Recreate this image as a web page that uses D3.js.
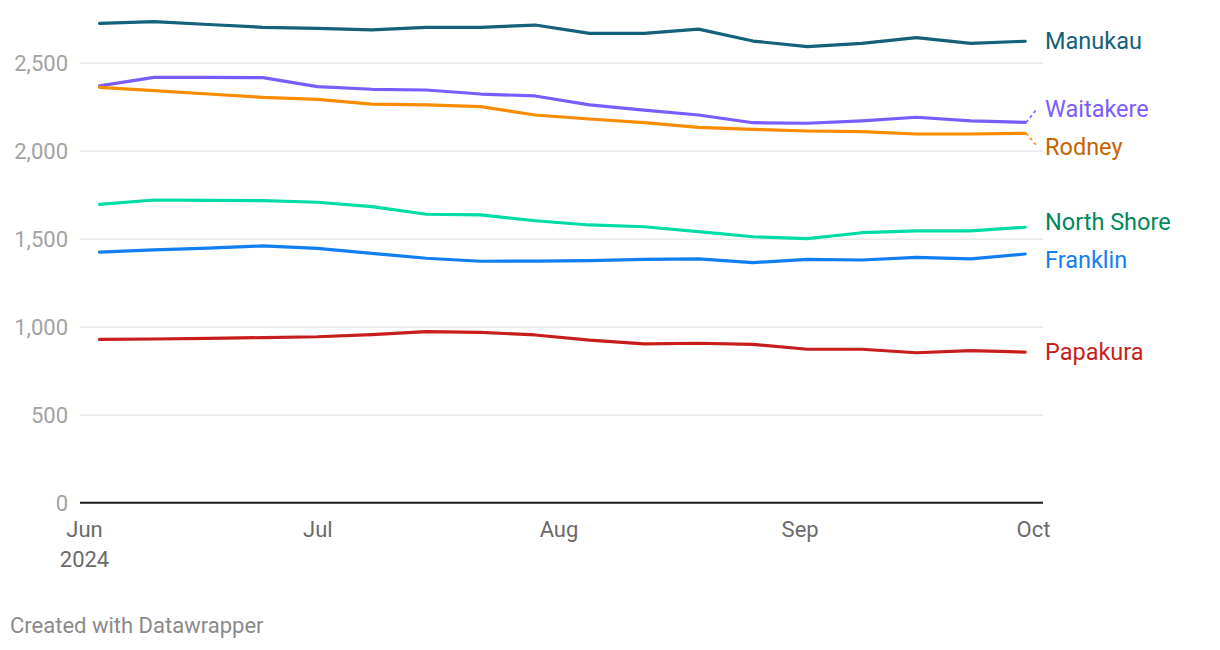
<!DOCTYPE html>
<html>
<head>
<meta charset="utf-8">
<script src="https://cdn.jsdelivr.net/npm/d3@7"></script>
<style>
  html, body { margin: 0; padding: 0; background: #fff; }
  svg { display: block; font-family: Roboto, "Noto Sans", sans-serif; }
</style>
</head>
<body>
<svg id="chart" width="1220" height="650"></svg>
<script>
// ---- data ----
const dates = ["2024-06-03","2024-06-10","2024-06-17","2024-06-24","2024-07-01","2024-07-08",
  "2024-07-15","2024-07-22","2024-07-29","2024-08-05","2024-08-12","2024-08-19",
  "2024-08-26","2024-09-02","2024-09-09","2024-09-16","2024-09-23","2024-09-30"];
const manukau    = [2724,2733,2717,2701,2695,2686,2701,2701,2714,2667,2667,2691,2623,2591,2610,2642,2610,2622];
const waitakere  = [2368,2417,2417,2415,2364,2349,2345,2322,2311,2260,2231,2203,2159,2156,2170,2190,2169,2161];
const rodney     = [2360,2341,2322,2303,2292,2265,2260,2250,2203,2180,2159,2133,2121,2112,2108,2095,2095,2099];
const northShore = [1695,1720,1718,1716,1707,1682,1639,1635,1602,1578,1568,1540,1511,1500,1534,1544,1545,1565];
const franklin   = [1424,1436,1447,1459,1445,1417,1389,1372,1373,1375,1383,1385,1364,1383,1379,1394,1385,1413];
const papakura   = [928,930,934,938,943,955,972,968,953,924,902,906,900,872,872,852,864,856];
const seriesNames = ["Manukau","Waitakere","Rodney","North Shore","Franklin","Papakura"];
const yTicks = [0,500,1000,1500,2000,2500];
const xTickDates = ["2024-06-01","2024-07-01","2024-08-01","2024-09-01","2024-10-01"];
const footer = "Created with Datawrapper";

// ---- styles ----
const lineColors  = ["#15607a","#7b5cff","#fa8c00","#00dca6","#127ff0","#c71e1d"];
const labelColors = ["#15607a","#7b5cff","#c86400","#00875a","#127ff0","#c71e1d"];

const parse = d3.utcParse("%Y-%m-%d");
const xDates = dates.map(parse);
const allValues = [manukau, waitakere, rodney, northShore, franklin, papakura];
const series = seriesNames.map((name, i) => ({
  name, line: lineColors[i], label: labelColors[i],
  values: allValues[i].map((v, j) => ({date: xDates[j], value: v}))
}));

const svg = d3.select("#chart");
const x = d3.scaleUtc().domain([parse("2024-06-01"), parse("2024-10-01")]).range([84, 1033]);
const y = d3.scaleLinear().domain([0, 2500]).range([502.7, 62.7]);
const gridX0 = 80, gridX1 = 1043;

// gridlines
const yAxis = d3.axisLeft(y).tickValues(yTicks).tickSize(gridX0 - gridX1)
  .tickFormat(d3.format(",")).tickPadding(12);
const gy = svg.append("g").attr("transform", `translate(${gridX0},0)`).call(yAxis);
gy.select(".domain").remove();
gy.selectAll(".tick line").attr("stroke", "#e5e5e5").attr("stroke-width", 1.2)
  .attr("x1", 0).attr("x2", gridX1 - gridX0);
gy.selectAll(".tick text").attr("fill", "#a3a3a3").attr("font-size", 22)
  .attr("x", 68 - gridX0).attr("dy", "0.35em").attr("font-family", "Roboto");
gy.selectAll(".tick").filter(d => d === 0).select("line").remove();

// baseline
svg.append("line").attr("x1", gridX0).attr("x2", gridX1)
  .attr("y1", y(0)).attr("y2", y(0)).attr("stroke", "#1a1a1a").attr("stroke-width", 2);

// x axis labels
const xAxis = d3.axisBottom(x).tickValues(xTickDates.map(parse)).tickSize(0)
  .tickFormat(d3.utcFormat("%b"));
const gx = svg.append("g").attr("transform", `translate(0,${y(0)})`).call(xAxis);
gx.select(".domain").remove();
gx.selectAll(".tick text").attr("fill", "#6b6b6b").attr("font-size", 22)
  .attr("font-family", "Roboto").attr("dy", null).attr("y", 34);
gx.selectAll(".tick").filter((d, i) => i === 0).append("text")
  .attr("fill", "#6b6b6b").attr("font-size", 22).attr("font-family", "Roboto")
  .attr("text-anchor", "middle").attr("y", 64).text(d => d3.utcFormat("%Y")(d));

// lines
const line = d3.line().x(d => x(d.date)).y(d => y(d.value));
svg.append("g").selectAll("path").data(series).join("path")
  .attr("d", d => line(d.values))
  .attr("fill", "none").attr("stroke", d => d.line).attr("stroke-width", 3.2)
  .attr("stroke-linejoin", "round").attr("stroke-linecap", "round");

// labels with collision avoidance
const labels = series.map(s => {
  const last = s.values[s.values.length - 1];
  return {s, x0: x(last.date), y0: y(last.value), y: y(last.value)};
}).sort((a, b) => a.y - b.y);
const minGap = 38.3;
for (let iter = 0; iter < 200; iter++) {
  let moved = false;
  for (let i = 0; i < labels.length - 1; i++) {
    const a = labels[i], b = labels[i + 1];
    const gap = b.y - a.y;
    if (gap < minGap - 0.01) {
      const push = (minGap - gap) / 2;
      a.y -= push; b.y += push; moved = true;
    }
  }
  if (!moved) break;
}
const labelX = 1045;
const lg = svg.append("g");
labels.forEach(l => {
  if (Math.abs(l.y - l.y0) > 8) {
    lg.append("line").attr("x1", l.x0 + 1).attr("y1", l.y0)
      .attr("x2", labelX - 8).attr("y2", l.y + (l.y < l.y0 ? 0 : -1))
      .attr("stroke", l.s.line).attr("stroke-width", 1.6).attr("stroke-dasharray", "3,3");
  }
  lg.append("text").attr("x", labelX).attr("y", l.y).attr("dy", "0.35em")
    .attr("fill", l.s.label).attr("font-size", 23.5).attr("font-family", "Roboto")
    .text(l.s.name);
});

// footer
svg.append("text").attr("x", 10).attr("y", 633).attr("fill", "#8a8a8a")
  .attr("font-size", 22).attr("font-family", "Roboto").text(footer);
</script>
</body>
</html>
